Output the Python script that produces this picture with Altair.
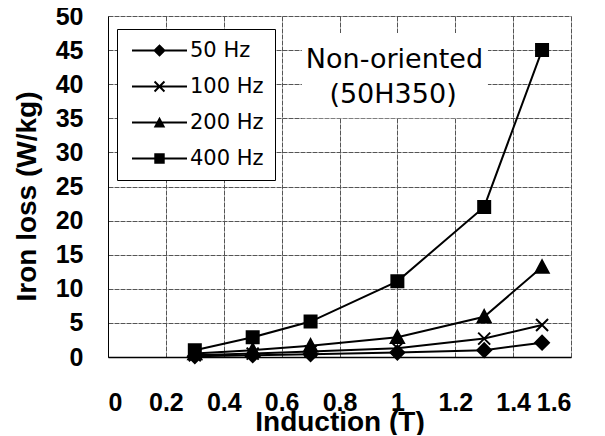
import altair as alt
import pandas as pd

induction = [0.3, 0.5, 0.7, 1.0, 1.3, 1.5]
freqs = ["50 Hz", "100 Hz", "200 Hz", "400 Hz"]
loss_50 = [0.12, 0.25, 0.4, 0.65, 1.0, 2.1]
loss_100 = [0.25, 0.5, 0.8, 1.3, 2.7, 4.7]
loss_200 = [0.5, 1.0, 1.65, 2.9, 5.9, 13.2]
loss_400 = [1.0, 2.9, 5.2, 11.1, 22.0, 45.0]
x_ticks = [0, 0.2, 0.4, 0.6, 0.8, 1.0, 1.2, 1.4, 1.6]
y_ticks = [0, 5, 10, 15, 20, 25, 30, 35, 40, 45, 50]
note_lines = ["Non-oriented", "(50H350)"]
note_x = [0.99, 0.985]
note_y = [43.6, 38.4]
note_box_x = [0.67, 1.313]
note_box_y = [35.0, 47.5]

rows = []
for f, vals in zip(freqs, [loss_50, loss_100, loss_200, loss_400]):
    for b, v in zip(induction, vals):
        rows.append({"freq": f, "B": b, "loss": v})
df = pd.DataFrame(rows)

marker_paths = [
    "M0,-1.15L1.15,0L0,1.15L-1.15,0Z",
    "M-1,-1L1,1M-1,1L1,-1",
    "M0,-1.1L1.1,0.95L-1.1,0.95Z",
    "M-1,-1H1V1H-1Z",
]
# legend glyphs drawn as filled shapes: a thin bar (the line) plus the marker
bar = "M-5,-0.18L5,-0.18L5,0.18L-5,0.18Z"
legend_paths = [
    bar + "M0,-1.15L1.15,0L0,1.15L-1.15,0Z",
    bar + "M-0.773,-1.027L1.027,0.773L0.773,1.027L-1.027,-0.773Z"
          "M-1.027,0.773L0.773,-1.027L1.027,-0.773L-0.773,1.027Z",
    bar + "M0,-1.05L1.05,0.9L-1.05,0.9Z",
    bar + "M-0.95,-0.95L0.95,-0.95L0.95,0.95L-0.95,0.95Z",
]

xscale = alt.Scale(domain=[0, 1.6], nice=False)
yscale = alt.Scale(domain=[0, 50], nice=False)

xaxis = alt.Axis(
    values=x_ticks, labelExpr="format(datum.value, '~g')", title="Induction (T)",
    labelFont="Liberation Sans", labelFontWeight="bold", labelFontSize=25,
    labelPadding=33, labelColor="black", labelOverlap=False, tickSize=0,
    domainColor="black", domainWidth=1.5, grid=True, gridColor="#555",
    gridDash=[5, 1], gridWidth=1,
    titleFont="Liberation Sans", titleFontWeight="bold", titleFontSize=28,
    titleColor="black", titleY=73, titleBaseline="alphabetic",
)
yaxis = alt.Axis(
    values=y_ticks, title="Iron loss (W/kg)",
    labelFont="Liberation Sans", labelFontWeight="bold", labelFontSize=25,
    labelPadding=25, labelColor="black", labelOverlap=False, tickSize=0,
    domainColor="black", domainWidth=1, grid=True, gridColor="#555",
    gridDash=[5, 1], gridWidth=1,
    titleFont="Liberation Sans", titleFontWeight="bold", titleFontSize=28,
    titleColor="black", titleX=-73, titleY=180, titleBaseline="alphabetic",
)

X = alt.X("B:Q", scale=xscale, axis=xaxis)
Y = alt.Y("loss:Q", scale=yscale, axis=yaxis)

base = alt.Chart(df)

lines = base.mark_line(color="black", strokeWidth=2).encode(
    x=X, y=Y, detail="freq:N",
)

points = base.mark_point(filled=True, color="black", size=144, opacity=1,
                         strokeWidth=2, stroke="black").encode(
    x=X, y=Y,
    shape=alt.Shape("freq:N", scale=alt.Scale(domain=freqs, range=marker_paths),
                    legend=None),
)

# legend-only layer: no rows are drawn, the legend comes from the shape scale
legend_layer = base.transform_filter("false").mark_point(
    filled=True, fill="black"
).encode(
    x=X, y=Y,
    shape=alt.Shape(
        "freq:N",
        scale=alt.Scale(domain=freqs, range=legend_paths),
        legend=alt.Legend(
            title=None, orient="none", legendX=9, legendY=13,
            symbolSize=121, symbolOffset=21, labelOffset=20,
            symbolOpacity=1, symbolFillColor="black",
            labelFont="DejaVu Sans", labelFontSize=21, labelColor="black",
            rowPadding=14, padding=11, strokeColor="black", fillColor="white",
        ),
    ),
)

box_df = pd.DataFrame({"B": [note_box_x[0]], "B2": [note_box_x[1]],
                       "loss": [note_box_y[0]], "loss2": [note_box_y[1]]})
note_box = alt.Chart(box_df).mark_rect(color="white").encode(
    x=X, x2="B2:Q", y=Y, y2="loss2:Q"
)

note_df = pd.DataFrame({"t": note_lines, "B": note_x, "loss": note_y})
notes = alt.Chart(note_df).mark_text(
    font="DejaVu Sans", fontSize=27, color="black", align="center", baseline="middle"
).encode(x=X, y=Y, text="t:N")

chart = alt.layer(note_box, notes, lines, points, legend_layer).resolve_scale(
    shape="independent"
).properties(
    width=463, height=341,
    autosize=alt.AutoSizeParams(type="none"),
    padding={"left": 100, "top": 8, "right": 26, "bottom": 78},
).configure_view(strokeWidth=0)

chart.save("out.html", embed_options={"renderer": "svg", "actions": False})
